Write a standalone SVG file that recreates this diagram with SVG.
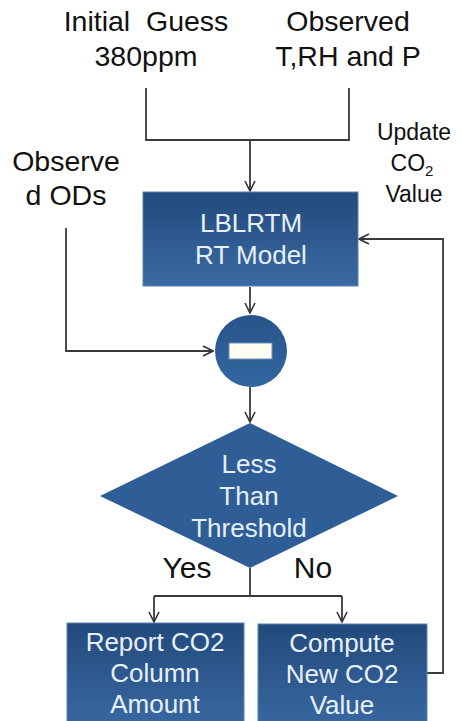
<svg xmlns="http://www.w3.org/2000/svg" width="462" height="721" viewBox="0 0 462 721">
<defs>
<linearGradient id="boxg" x1="0" y1="0" x2="0" y2="1">
<stop offset="0" stop-color="#224a7c"/>
<stop offset="1" stop-color="#3a6aa3"/>
</linearGradient>
<linearGradient id="circg" x1="0" y1="0" x2="0" y2="1">
<stop offset="0" stop-color="#27558a"/>
<stop offset="1" stop-color="#3466a0"/>
</linearGradient>
<marker id="arr" viewBox="0 0 12 12" refX="11" refY="6" markerWidth="12" markerHeight="12" markerUnits="userSpaceOnUse" orient="auto">
<path d="M1,1 L11,6 L1,11" fill="none" stroke="#333" stroke-width="1.6"/>
</marker>
</defs>
<style>
.lbl{font-family:"Liberation Sans",Arial,sans-serif;fill:#111;text-anchor:middle}
.big{font-size:28.5px}
.yn{font-size:30px}
.sm{font-size:23px}
.in{font-family:"Liberation Sans",Arial,sans-serif;fill:#e8f0fb;text-anchor:middle;font-size:26px}
.box{fill:url(#boxg);stroke:#5a82b2;stroke-width:1}
.ln{fill:none;stroke:#3a3a3a;stroke-width:1.8}
</style>
<rect width="462" height="721" fill="#fff"/>

<g id="labels">
<text class="lbl big" x="146" y="31">Initial&#160; Guess</text>
<text class="lbl big" x="146" y="66">380ppm</text>
<text class="lbl big" x="348" y="31">Observed</text>
<text class="lbl big" x="348" y="66">T,RH and P</text>
<text class="lbl big" x="66" y="171">Observe</text>
<text class="lbl big" x="66" y="205">d ODs</text>
<text class="lbl sm" x="414" y="140">Update</text>
<text class="lbl sm" x="412" y="171">CO<tspan font-size="15" dy="5">2</tspan></text>
<text class="lbl sm" x="414" y="202">Value</text>
<text class="lbl yn" x="187" y="578">Yes</text>
<text class="lbl yn" x="313" y="578">No</text>
</g>

<g id="connectors">
<path class="ln" d="M146,88 V140 H349 V88"/>
<path class="ln" d="M250,140 V191" marker-end="url(#arr)"/>
<path class="ln" d="M66,228 V351 H213" marker-end="url(#arr)"/>
<path class="ln" d="M250,287 V313" marker-end="url(#arr)"/>
<path class="ln" d="M250,387 V422" marker-end="url(#arr)"/>
<path class="ln" d="M250,568 V596"/>
<path class="ln" d="M154,596 H342"/>
<path class="ln" d="M154,596 V622" marker-end="url(#arr)"/>
<path class="ln" d="M342,596 V622" marker-end="url(#arr)"/>
<path class="ln" d="M427,673 H443 V239 H359" marker-end="url(#arr)"/>
</g>

<g id="lblrtm">
<rect class="box" x="143" y="192" width="215" height="94"/>
<text class="in" x="251" y="232">LBLRTM</text>
<text class="in" x="251" y="264">RT Model</text>
</g>

<g id="minus">
<circle cx="251" cy="351" r="36" fill="url(#circg)"/>
<rect x="229" y="343" width="43" height="16" fill="#fffcf2" stroke="#6f8fb5" stroke-width="1"/>
</g>

<g id="threshold">
<polygon points="250,423 398,496 250,568 100,496" fill="#2e5e95"/>
<text class="in" x="249" y="473">Less</text>
<text class="in" x="249" y="505">Than</text>
<text class="in" x="249" y="537">Threshold</text>
</g>

<g id="report">
<rect class="box" x="67" y="623" width="177" height="110"/>
<text class="in" x="155" y="651">Report CO2</text>
<text class="in" x="155" y="682">Column</text>
<text class="in" x="155" y="713">Amount</text>
</g>

<g id="compute">
<rect class="box" x="258" y="624" width="169" height="110"/>
<text class="in" x="342" y="652">Compute</text>
<text class="in" x="342" y="683">New CO2</text>
<text class="in" x="342" y="714">Value</text>
</g>
</svg>
